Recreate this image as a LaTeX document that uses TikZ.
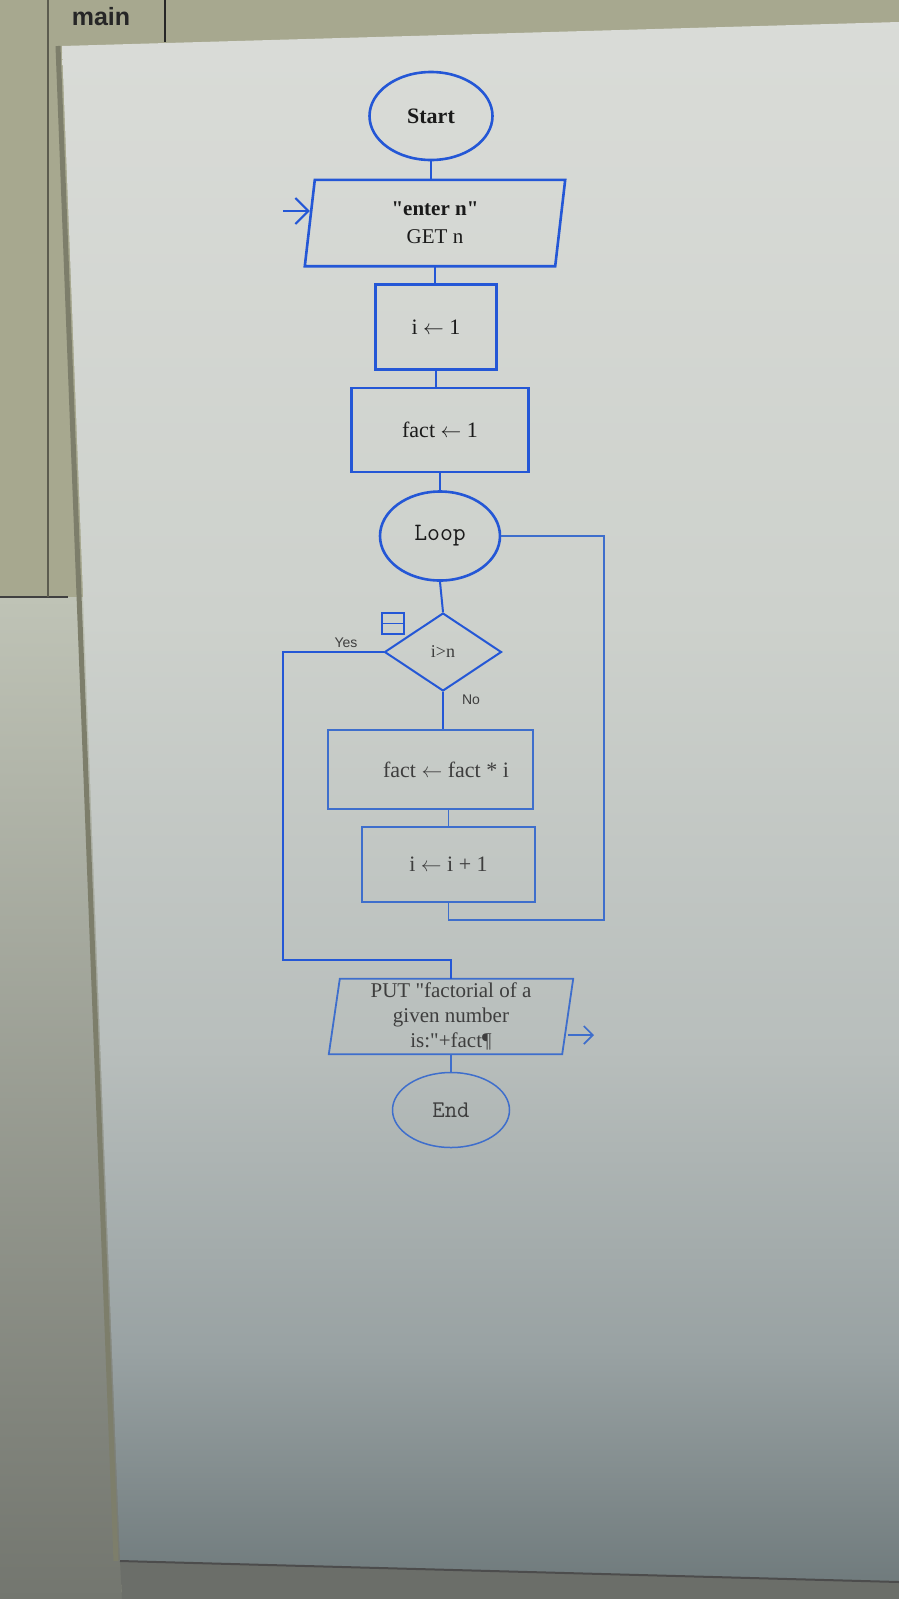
\documentclass[tikz,border=0pt]{standalone}
\usepackage{fontspec}
\setmainfont{Liberation Serif}[Ligatures=TeXOff]
\newfontfamily\uifont{Liberation Sans}
\usetikzlibrary{shapes.geometric,arrows.meta}
\definecolor{flowblue}{HTML}{2457D6}
\definecolor{flowpale}{HTML}{3E6ECC}
\definecolor{frameolive}{HTML}{A7A88F}
\definecolor{paneltop}{HTML}{BFC3B6}
\definecolor{panelbot}{HTML}{73766F}
\definecolor{floorgray}{HTML}{6B6E69}
\definecolor{canvasA}{HTML}{DADCD8}
\definecolor{canvasB}{HTML}{CDD1CC}
\definecolor{canvasC}{HTML}{B8BEBC}
\definecolor{canvasD}{HTML}{99A2A3}
\definecolor{canvasE}{HTML}{6D787A}
\definecolor{inkdark}{HTML}{1A1A1A}
\definecolor{inkgray}{HTML}{3E3E3E}

\begin{document}
\begin{tikzpicture}[x=1pt,y=-1pt,
    flow/.style={draw=flowblue, line width=2.6pt},
    pale/.style={draw=flowpale, line width=1.8pt},
    proc/.style={rectangle, inner sep=0pt, text=inkdark, font=\fontsize{22}{26}\selectfont},
    term/.style={ellipse, inner sep=0pt, text=inkdark},
    link/.style={flowblue, line width=2pt},
    linkpale/.style={flowpale, line width=1.7pt},
    tag/.style={inner sep=0pt, text=inkgray, font=\uifont\fontsize{14}{16}\selectfont}]
\useasboundingbox (0,0) rectangle (899,1599);

% screen around the canvas
\fill[frameolive] (0,0) rectangle (899,1599);
\shade[top color=paneltop, bottom color=panelbot] (0,597) -- (84,597) -- (122,1599) -- (0,1599) -- cycle;
\fill[floorgray] (120,1561) -- (899,1582) -- (899,1599) -- (122,1599) -- cycle;
\begin{scope}
  \clip (62,46) -- (899,22) -- (899,1582) -- (120,1561) -- cycle;
  \shade[top color=canvasA, bottom color=canvasB] (0,0) rectangle (899,620);
  \shade[top color=canvasB, bottom color=canvasC] (0,620) rectangle (899,1050);
  \shade[top color=canvasC, bottom color=canvasD] (0,1050) rectangle (899,1350);
  \shade[top color=canvasD, bottom color=canvasE] (0,1350) rectangle (899,1600);
\end{scope}
\draw[black!70, line width=2pt] (120,1561) -- (899,1582);
\draw[black!25!frameolive, line width=5pt] (58,46) -- (116,1561);
\draw[black!75, line width=2.5pt] (0,597) -- (68,597);
\draw[black!45!frameolive, line width=2pt] (48,0) -- (48,597);
\draw[black!85, line width=2.5pt] (165,0) -- (165,42);
\node[inner sep=0pt, text=black!85, font=\uifont\bfseries\fontsize{25}{28}\selectfont] (tab) at (101,17) {main};

% flowchart
\node[term, flow, minimum width=123pt, minimum height=88pt, font=\bfseries\fontsize{22}{26}\selectfont] (start) at (431,116) {Start};
\node[proc, minimum width=250pt, minimum height=86pt, align=center, font=\fontsize{21}{28}\selectfont] (in) at (435,223) {\textbf{"enter n"}\\GET n};
\draw[flow] ([xshift=5pt]in.north west) -- ([xshift=5pt]in.north east) -- ([xshift=-5pt]in.south east) -- ([xshift=-5pt]in.south west) -- cycle;
\node[proc, flow, minimum width=121pt, minimum height=85pt] (i1) at (436,327) {i $\leftarrow$ 1};
\node[proc, flow, minimum width=177pt, minimum height=84pt] (f1) at (440,430) {fact $\leftarrow$ 1};
\node[term, flow, minimum width=120pt, minimum height=89pt, font=\ttfamily\fontsize{25}{28}\selectfont] (loop) at (440,536) {Loop};
\node[diamond, draw=flowblue, line width=2pt, minimum width=117pt, minimum height=78pt, inner sep=0pt, text=inkgray, font=\fontsize{18}{20}\selectfont] (dec) at (443,652) {i>n};
\node[draw=flowblue, line width=1.8pt, minimum width=22pt, minimum height=21pt, inner sep=0pt] (brk) at (393,623.5) {};
\draw[flowblue, line width=1.5pt] (brk.west) -- (brk.east);
\node[tag] (yes) at (346,643) {Yes};
\node[tag] (no) at (471,700) {No};
\node[proc, pale, minimum width=205pt, minimum height=79pt, text=inkgray] (fi) at (430.5,769.5) {\hspace*{31pt}fact $\leftarrow$ fact * i};
\node[proc, pale, minimum width=173pt, minimum height=75pt, text=inkgray] (ii) at (448.5,864.5) {i $\leftarrow$ i + 1};
\node[proc, minimum width=233pt, minimum height=75pt, align=center, text=inkgray, font=\fontsize{21}{25}\selectfont] (out) at (451,1016.5) {PUT "factorial of a\\given number\\is:"+fact\P};
\draw[pale] ([xshift=5.5pt]out.north west) -- ([xshift=5.5pt]out.north east) -- ([xshift=-5.5pt]out.south east) -- ([xshift=-5.5pt]out.south west) -- cycle;
\node[term, draw=flowpale, line width=1.5pt, minimum width=117pt, minimum height=75pt, text=inkgray, font=\ttfamily\fontsize{24}{27}\selectfont] (end) at (451,1110) {End};

\coordinate (inarrow) at (283,211);
\coordinate (outarrow) at (594,1035);
\coordinate (loopback) at (604,920);
\coordinate (exitcorner) at (283,960);

\draw[link, -{Straight Barb[length=13pt,width=26pt]}] (inarrow) -- (inarrow -| in.west);
\draw[link] (start.south) -- (start.south |- in.north);
\draw[link] (in.south) -- (in.south |- i1.north);
\draw[link] (i1.south) -- (i1.south |- f1.north);
\draw[link] (f1.south) -- (f1.south |- loop.north);
\draw[link] (loop.south) -- (dec.north);
\draw[link] (dec.south) -- (dec.south |- fi.north);
\draw[linkpale] (ii.north |- fi.south) -- (ii.north);
\draw[linkpale] (ii.south) |- (loopback) |- (loop.east);
\draw[link] (dec.west) -| (exitcorner) -| (out.north);
\draw[linkpale] (out.south) -- (out.south |- end.north);
\draw[linkpale, -{Straight Barb[length=9pt,width=18pt]}] (out.east |- outarrow) -- (outarrow);
\end{tikzpicture}
\end{document}
